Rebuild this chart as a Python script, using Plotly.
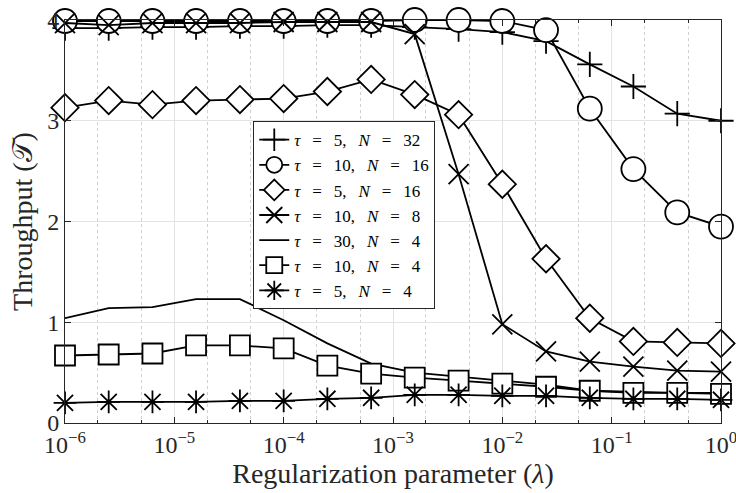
import plotly.graph_objects as go

# Regularization parameter sweep (lambda)
lambdas = [1e-6, 2.51e-6, 6.31e-6, 1.58e-5, 3.98e-5, 1e-4, 2.51e-4, 6.31e-4,
           1.58e-3, 3.98e-3, 1e-2, 2.51e-2, 6.31e-2, 1.58e-1, 3.98e-1, 1.0]

# Throughput for each (tau, N) configuration
thr_t5_n32 = [3.92, 3.92, 3.93, 3.93, 3.94, 3.94, 3.95, 3.95,
              3.93, 3.91, 3.88, 3.79, 3.56, 3.34, 3.07, 3.00]
thr_t10_n16 = [3.99, 3.99, 3.99, 3.99, 3.99, 3.99, 3.99, 3.99,
               4.00, 4.00, 3.99, 3.90, 3.12, 2.52, 2.09, 1.95]
thr_t5_n16 = [3.13, 3.20, 3.16, 3.20, 3.21, 3.22, 3.29, 3.41,
              3.26, 3.06, 2.37, 1.63, 1.04, 0.81, 0.80, 0.79]
thr_t10_n8 = [3.97, 3.95, 3.97, 3.97, 3.97, 3.98, 3.98, 3.98,
              3.86, 2.47, 0.98, 0.71, 0.61, 0.56, 0.52, 0.51]
thr_t30_n4 = [1.04, 1.14, 1.15, 1.23, 1.23, 1.02, 0.79, 0.59,
              0.50, 0.46, 0.42, 0.38, 0.32, 0.31, 0.30, 0.30]
thr_t10_n4 = [0.67, 0.68, 0.69, 0.77, 0.77, 0.74, 0.57, 0.49,
              0.45, 0.42, 0.39, 0.36, 0.32, 0.30, 0.30, 0.29]
thr_t5_n4 = [0.20, 0.21, 0.21, 0.21, 0.22, 0.22, 0.24, 0.25,
             0.28, 0.28, 0.27, 0.27, 0.25, 0.24, 0.24, 0.23]

# Decade tick positions and labels on the lambda axis
x_tickvals = [1e-6, 1e-5, 1e-4, 1e-3, 1e-2, 1e-1, 1e0]
x_ticktext = ["10<sup>−6</sup>", "10<sup>−5</sup>", "10<sup>−4</sup>",
              "10<sup>−3</sup>", "10<sup>−2</sup>", "10<sup>−1</sup>",
              "10<sup>0</sup>"]

# (tau, N) pairs for the legend
taus = [5, 10, 5, 10, 30, 10, 5]
ns = [32, 16, 16, 8, 4, 4, 4]

# values, marker symbol, marker size, marker fill
styles = [
    (thr_t5_n32, "cross-thin-open", 18, "black"),
    (thr_t10_n16, "circle", 24, "white"),
    (thr_t5_n16, "diamond", 21, "white"),
    (thr_t10_n8, "x-thin-open", 20, "black"),
    (thr_t30_n4, None, 0, None),
    (thr_t10_n4, "square", 20, "white"),
    (thr_t5_n4, "asterisk-open", 19, "black"),
]

SERIF = "Liberation Serif, Times New Roman, DejaVu Serif, serif"
INK = "#262626"
GAP = "\u2002\u2009"  # math-style spacing around relations


def label(tau, n):
    return (f"<i>τ</i>{GAP}={GAP}{tau},{GAP}<i>N</i>{GAP}={GAP}{n}")


fig = go.Figure()
for tau, n, (vals, symbol, size, fill) in zip(taus, ns, styles):
    name = label(tau, n)
    if symbol is None:
        fig.add_trace(go.Scatter(
            x=lambdas, y=vals, name=name, mode="lines",
            line=dict(color="black", width=1.8), cliponaxis=False))
    else:
        fig.add_trace(go.Scatter(
            x=lambdas, y=vals, name=name, mode="lines+markers",
            line=dict(color="black", width=1.8),
            marker=dict(symbol=symbol, size=size, color=fill,
                        line=dict(color="black", width=1.8)),
            cliponaxis=False))

axis_common = dict(
    showline=True, linecolor=INK, linewidth=1, mirror="allticks",
    ticks="inside", ticklen=6, tickcolor=INK,
    tickfont=dict(family=SERIF, size=24, color=INK),
    showgrid=True, gridcolor="#e3e3e3", gridwidth=1.2,
    zeroline=False, ticklabeloverflow="allow", automargin=False,
)

fig.update_xaxes(
    type="log", range=[-6, 0.00001],
    tickmode="array", tickvals=x_tickvals, ticktext=x_ticktext,
    title=dict(text="Regularization parameter (<i>λ</i>)",
               font=dict(family=SERIF, size=28, color=INK), standoff=4),
    minor=dict(ticks="inside", ticklen=3, tickcolor=INK, showgrid=True,
               gridcolor="#cfcfcf", griddash="dot", gridwidth=1),
    **axis_common,
)
fig.update_yaxes(
    range=[0, 4], dtick=1,
    title=dict(text="Throughput (𝒯)",
               font=dict(family=SERIF, size=28, color=INK), standoff=6),
    **axis_common,
)

fig.update_layout(
    width=736, height=493,
    margin=dict(l=65, r=15, t=20, b=70),
    paper_bgcolor="white", plot_bgcolor="white",
    showlegend=True,
    legend=dict(
        x=0.287, y=0.749, xanchor="left", yanchor="top",
        bgcolor="white", bordercolor=INK, borderwidth=1,
        font=dict(family=SERIF, size=17, color="black"),
        tracegroupgap=0, itemwidth=30,
    ),
)

fig.write_html("out.html")
